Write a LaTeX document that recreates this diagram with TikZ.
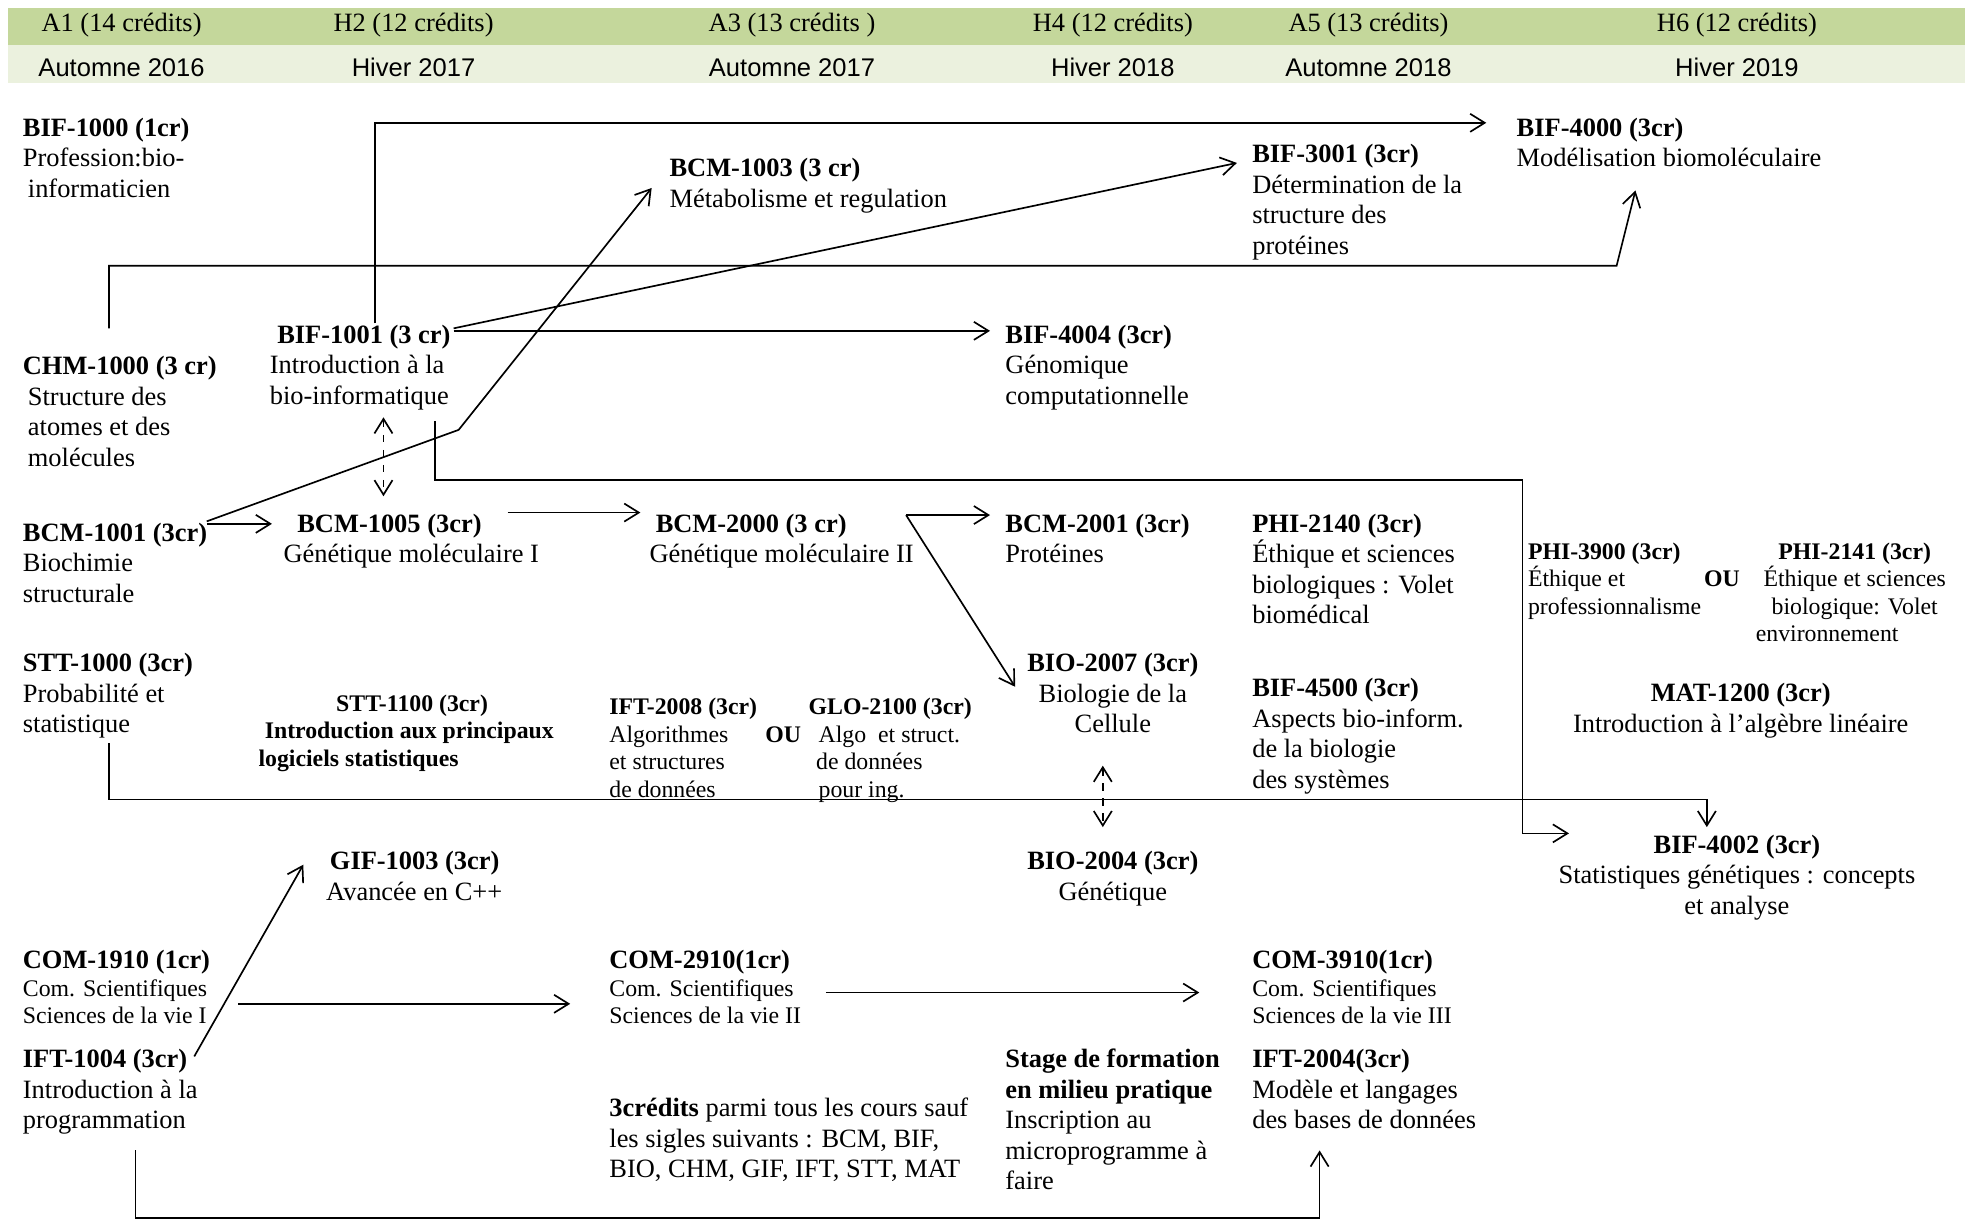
\documentclass[tikz,border=0pt]{standalone}
\usepackage{fontspec}
\setmainfont{Liberation Serif}
\newfontfamily\entetefont{Liberation Sans}
\usepackage{xcolor}
\usetikzlibrary{arrows.meta,positioning}
\definecolor{vertfonce}{HTML}{C4D79B}
\definecolor{vertclair}{HTML}{EBF1DE}

\begin{document}
\begin{tikzpicture}[x=0.25mm, y=-0.25mm,
        cours/.style={anchor=north west, inner sep=0pt, align=left, font=\fontsize{15}{17.3}\selectfont},
        petit/.style={anchor=north west, inner sep=0pt, align=left, font=\fontsize{13.5}{15.6}\selectfont},
        milieu/.style={anchor=north, inner sep=0pt, align=center, font=\fontsize{15}{17.3}\selectfont},
        session/.style={inner sep=0pt, font=\fontsize{15}{17}\selectfont},
        saison/.style={inner sep=0pt, font=\entetefont\fontsize{14.5}{17}\selectfont},
        fleche/.style={-{Straight Barb[length=2.9mm,width=3.6mm]}, line width=0.95pt},
        pointille/.style={{Straight Barb[length=2.9mm,width=3.6mm]}-{Straight Barb[length=2.9mm,width=3.6mm]}, line width=0.95pt, dash pattern=on 1.5mm off 1.5mm}
    ]
        \useasboundingbox (0,0) rectangle (1568,978);

        % Bandeau des sessions
        \fill[vertfonce] (6,6) rectangle (1568,36);
        \fill[vertclair] (6,36) rectangle (1568,66);
        \node[session] (h1) at (97,20) {A1 (14 crédits)};
        \node[session] (h2) at (330,20) {H2 (12 crédits)};
        \node[session] (h3) at (632,20) {A3 (13 crédits )};
        \node[session] (h4) at (888,20) {H4 (12 crédits)};
        \node[session] (h5) at (1092,20) {A5 (13 crédits)};
        \node[session] (h6) at (1386,20) {H6 (12 crédits)};
        \node[saison] (t1) at (97,54) {Automne 2016};
        \node[saison] (t2) at (330,54) {Hiver 2017};
        \node[saison] (t3) at (632,54) {Automne 2017};
        \node[saison] (t4) at (888,54) {Hiver 2018};
        \node[saison] (t5) at (1092,54) {Automne 2018};
        \node[saison] (t6) at (1386,54) {Hiver 2019};

        % Cours
        \node[cours] (bif1000) at (18,94) {\textbf{BIF-1000 (1cr)}\\Profession:bio-\\\hspace*{1mm}informaticien};
        \node[cours] (chm1000) at (18,284) {\textbf{CHM-1000 (3 cr)}\\\hspace*{1mm}Structure des\\\hspace*{1mm}atomes et des\\\hspace*{1mm}molécules};
        \node[cours] (bif1001) at (215,259) {\hspace*{1.5mm}\textbf{BIF-1001 (3 cr)}\\Introduction à la\\bio-informatique};
        \node[cours] (bcm1003) at (534,126) {\textbf{BCM-1003 (3 cr)}\\Métabolisme et regulation};
        \node[cours] (bif3001) at (999,115) {\textbf{BIF-3001 (3cr)}\\Détermination de la\\structure des\\protéines};
        \node[cours] (bif4000) at (1210,94) {\textbf{BIF-4000 (3cr)}\\Modélisation biomoléculaire};
        \node[cours] (bif4004) at (802,259) {\textbf{BIF-4004 (3cr)}\\Génomique\\computationnelle};
        \node[cours] (bcm1001) at (18,417) {\textbf{BCM-1001 (3cr)}\\Biochimie\\structurale};
        \node[cours] (bcm1005) at (226,410) {\hspace*{2.75mm}\textbf{BCM-1005 (3cr)}\\Génétique moléculaire I};
        \node[cours] (bcm2000) at (518,410) {\hspace*{1.25mm}\textbf{BCM-2000 (3 cr)}\\Génétique moléculaire II};
        \node[cours] (bcm2001) at (802,410) {\textbf{BCM-2001 (3cr)}\\Protéines};
        \node[cours] (phi2140) at (999,410) {\textbf{PHI-2140 (3cr)}\\Éthique et sciences\\biologiques : Volet\\biomédical};
        \node[petit] (phi3900) at (1219,433) {\textbf{PHI-3900 (3cr)}\\Éthique et\\professionnalisme};
        \node[petit, anchor=center] (ou1) at (1374,462) {\textbf{OU}};
        \node[petit, anchor=north, align=center] (phi2141) at (1480,433) {\textbf{PHI-2141 (3cr)}\\Éthique et sciences\\biologique: Volet\\environnement\hspace*{11mm}};
        \node[cours] (stt1000) at (18,521) {\textbf{STT-1000 (3cr)}\\Probabilité et\\statistique};
        \node[petit] (stt1100) at (206,554) {\hspace*{15.5mm}\textbf{STT-1100 (3cr)}\\\hspace*{1.25mm}\textbf{Introduction aux principaux}\\\textbf{logiciels statistiques}};
        \node[petit] (ift2008) at (486,557) {\textbf{IFT-2008 (3cr)}\\Algorithmes\\et structures\\de données};
        \node[petit, anchor=center] (ou2) at (625,586) {\textbf{OU}};
        \node[petit] (glo2100) at (645,557) {\textbf{GLO-2100 (3cr)}\\\hspace*{2mm}Algo~ et struct.\\\hspace*{1.5mm}de données\\\hspace*{2mm}pour ing.};
        \node[milieu] (bio2007) at (888,521) {\textbf{BIO-2007 (3cr)}\\Biologie de la\\Cellule};
        \node[cours] (bif4500) at (999,541) {\textbf{BIF-4500 (3cr)}\\Aspects bio-inform.\\de la biologie\\des systèmes};
        \node[milieu] (mat1200) at (1389,545) {\textbf{MAT-1200 (3cr)}\\Introduction à l’algèbre linéaire};
        \node[milieu] (bio2004) at (888,679) {\textbf{BIO-2004 (3cr)}\\Génétique};
        \node[milieu] (bif4002) at (1386,666) {\textbf{BIF-4002 (3cr)}\\Statistiques génétiques : concepts\\et analyse};
        \node[cours] (gif1003) at (260,679) {\hspace*{0.75mm}\textbf{GIF-1003 (3cr)}\\Avancée en C++};
        \node[petit] (com1910) at (18,758) {{\fontsize{15}{15.6}\selectfont\textbf{COM-1910 (1cr)}}\\Com. Scientifiques\\Sciences de la vie I};
        \node[cours] (ift1004) at (18,837) {\textbf{IFT-1004 (3cr)}\\Introduction à la\\programmation};
        \node[petit] (com2910) at (486,758) {{\fontsize{15}{15.6}\selectfont\textbf{COM-2910(1cr)}}\\Com. Scientifiques\\Sciences de la vie II};
        \node[petit] (com3910) at (999,758) {{\fontsize{15}{15.6}\selectfont\textbf{COM-3910(1cr)}}\\Com. Scientifiques\\Sciences de la vie III};
        \node[cours] (stage) at (802,837) {\textbf{Stage de formation}\\\textbf{en milieu pratique}\\Inscription au\\microprogramme à\\faire};
        \node[cours] (ift2004) at (999,837) {\textbf{IFT-2004(3cr)}\\Modèle et langages\\des bases de données};
        \node[cours] (sauf) at (486,876) {\textbf{3crédits} parmi tous les cours sauf\\les sigles suivants : BCM, BIF,\\BIO, CHM, GIF, IFT, STT, MAT};

        % Liens
        \draw[fleche] ([shift={(84,-1)}]bif1001.north west) |- ([shift={(-24,4)}]bif4000.north west);
        \draw[fleche] ([shift={(69,-22)}]chm1000.north west) |- ([shift={(80,118)}]bif4000.north west) -- ([shift={(95,58)}]bif4000.north west);
        \draw[fleche] ([shift={(147,-1)}]bcm1001.north west) -- ([shift={(151,84)}]bif1001.north west) -- ([shift={(-14,24)}]bcm1003.north west);
        \draw[fleche] ([shift={(147,1)}]bcm1001.north west) -- ([shift={(-9,8)}]bcm1005.north west);
        \draw[fleche] ([shift={(147,3)}]bif1001.north west) -- ([shift={(-12,15)}]bif3001.north west);
        \draw[fleche] ([shift={(147,5)}]bif1001.north west) -- ([shift={(-12,5)}]bif4004.north west);
        \draw[pointille] ([shift={(91,74)}]bif1001.north west) -- ([shift={(80,-14)}]bcm1005.north west);
        \draw[fleche] ([shift={(132,77)}]bif1001.north west) -- ++(0,47) -| ([shift={(-171,-1)}]bif4002.north) -- ([shift={(-134,-1)}]bif4002.north);
        \draw[fleche] ([shift={(69,72)}]stt1000.north west) -- ++(0,45) -| ([shift={(-24,-6)}]bif4002.north);
        \draw[fleche] ([shift={(179,-1)}]bcm1005.north west) -- ([shift={(-7,-1)}]bcm2000.north west);
        \draw[fleche] ([shift={(205,1)}]bcm2000.north west) -- ([shift={(-12,1)}]bcm2001.north west);
        \draw[fleche] ([shift={(205,1)}]bcm2000.north west) -- ([shift={(-78,27)}]bio2007.north);
        \draw[pointille] ([shift={(-8,90)}]bio2007.north) -- ([shift={(-8,-19)}]bio2004.north);
        \draw[fleche] ([shift={(137,6)}]ift1004.north west) -- ([shift={(-18,11)}]gif1003.north west);
        \draw[fleche] ([shift={(172,43)}]com1910.north west) -- ([shift={(-31,43)}]com2910.north west);
        \draw[fleche] ([shift={(173,34)}]com2910.north west) -- ([shift={(-42,34)}]com3910.north west);
        \draw[fleche] ([shift={(90,81)}]ift1004.north west) -- ++(0,54) -| ([shift={(54,81)}]ift2004.north west);
    \end{tikzpicture}
\end{document}
